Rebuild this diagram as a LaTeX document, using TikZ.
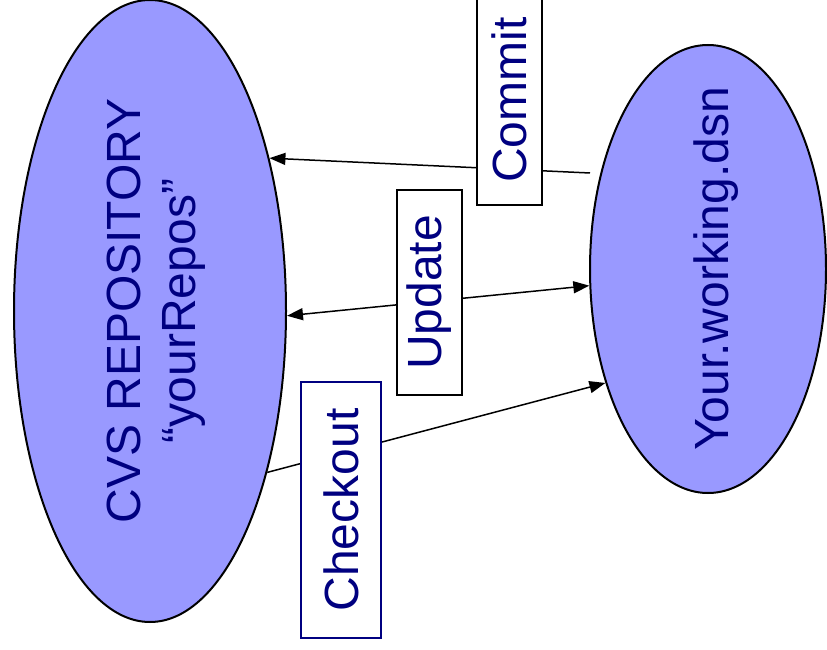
\documentclass[tikz,border=0pt]{standalone}
\usepackage{fontspec}
\setmainfont{Liberation Sans}
\usetikzlibrary{shapes.geometric, arrows.meta}
\definecolor{ellfill}{RGB}{153,153,255}
\definecolor{navytext}{RGB}{0,0,128}

\begin{document}
\begin{tikzpicture}[x = 1pt, y = -1pt,
    blob/.style = {shape = ellipse, draw, line width = 2pt, fill = ellfill, inner sep = 0pt},
    blobtext/.style = {text = navytext, font = \fontsize{48}{55}\selectfont},
    tag/.style = {shape = rectangle, draw, line width = 1.6pt, fill = white, rotate = 90, inner sep = 0pt,
        text = navytext, font = \fontsize{48}{55}\selectfont},
    link/.style = {line width = 1.5pt, -{Triangle[length = 16pt, width = 12pt]}},
    bothlink/.style = {line width = 1.5pt, {Triangle[length = 16pt, width = 12pt]}-{Triangle[length = 16pt, width = 12pt]}}]
    \useasboundingbox (0,0) rectangle (827,650);
    \node[blob, minimum width = 272pt, minimum height = 622pt,
        label = {[blobtext, xshift = 7pt]center:\rotatebox{90}{\begin{tabular}{@{}c@{}}CVS REPOSITORY\\“yourRepos”\end{tabular}}}] (Repo) at (150,311) {};
    \node[blob, minimum width = 236pt, minimum height = 448pt,
        label = {[blobtext, xshift = 8pt]center:\rotatebox{90}{Your.working.dsn}}] (Work) at (708,269) {};
    \coordinate (CommitEnd) at (590,173);
    \draw[link] (CommitEnd) -- (Repo.52);
    \draw[bothlink] (Repo.-2.5) -- (Work.188);
    \draw[link] (Repo.-54.6) -- (Work.228);
    \node[tag, minimum width = 210pt, minimum height = 65pt] (Commit) at (509.5,100) {Commit};
    \node[tag, minimum width = 205pt, minimum height = 65pt] (Update) at (429.5,292.5) {Update};
    \node[tag, draw = navytext, minimum width = 256pt, minimum height = 80pt] (Checkout) at (341,510) {Checkout};
\end{tikzpicture}
\end{document}
